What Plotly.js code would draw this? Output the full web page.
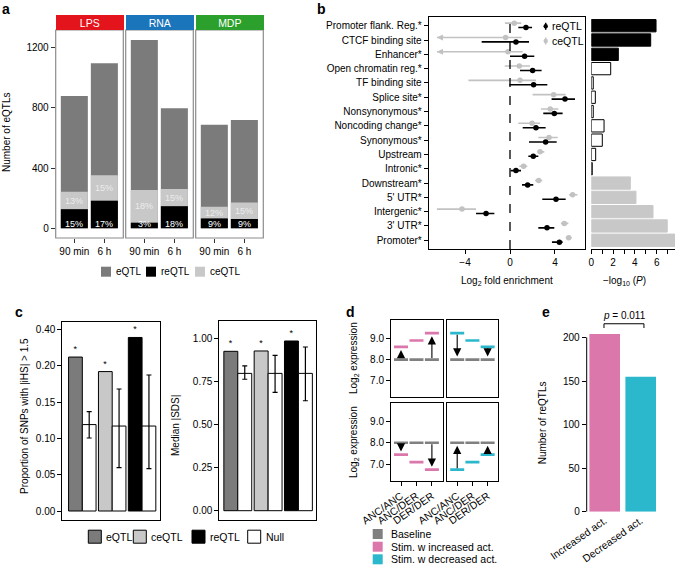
<!DOCTYPE html>
<html><head><meta charset="utf-8">
<script src="https://cdn.plot.ly/plotly-3.0.1.min.js"></script>
<style>html,body{margin:0;padding:0;background:#fff}#chart{width:675px;height:568px}</style>
</head><body><div id="chart"></div>
<script>
// ================= DATA =================
// Panel a  (order: LPS 90 min, LPS 6 h, RNA 90 min, RNA 6 h, MDP 90 min, MDP 6 h)
const aStimuli = ['LPS', 'RNA', 'MDP'];
const aTimepoints = ['90 min', '6 h'];
const aEQTL  = [877, 1094, 1249, 796, 687, 718];
const aCeQTL = [117, 169, 217, 115, 77, 110];
const aReQTL = [126, 183, 37, 146, 66, 62];
const aCePct = ['13%', '15%', '18%', '15%', '12%', '15%'];
const aRePct = ['15%', '17%', '3%', '18%', '9%', '9%'];
const aYTicks = [0, 400, 800, 1200];

// Panel b
const bCategories = ['Promoter flank. Reg.*', 'CTCF binding site', 'Enhancer*', 'Open chromatin reg.*',
  'TF binding site', 'Splice site*', 'Nonsynonymous*', 'Noncoding change*', 'Synonymous*', 'Upstream',
  'Intronic*', 'Downstream*', "5' UTR*", 'Intergenic*', "3' UTR*", 'Promoter*'];
const bReEst = [1.42, 0.53, 1.30, 2.01, 2.10, 4.89, 3.94, 2.31, 3.17, 2.07, 0.53, 1.57, 4.09, -2.13, 3.29, 4.39];
const bReLo  = [0.74, -2.52, 0.00, 0.89, -0.06, 3.70, 2.96, 1.13, 1.69, 1.63, 0.06, 1.07, 2.87, -3.02, 2.52, 3.73];
const bReHi  = [1.96, 1.69, 2.16, 2.81, 3.32, 5.78, 4.68, 3.17, 4.15, 2.52, 0.98, 2.07, 4.95, -1.39, 3.94, 4.68];
const bCeEst = [0.38, -0.39, -0.18, 0.83, 0.89, 3.88, 3.58, 1.96, 3.47, 2.67, 1.21, 2.55, 5.57, -4.27, 4.83, 5.22];
const bCeLo  = [-0.45, -6.5, -6.5, -0.47, -3.70, 2.01, 2.75, 0.74, 2.52, 2.43, 0.83, 2.22, 5.25, -6.5, 4.53, 4.95];
const bCeHi  = [1.00, 1.04, 1.13, 1.78, 2.31, 4.95, 4.30, 2.67, 4.24, 3.05, 1.54, 2.87, 6.00, -3.02, 5.19, 5.48];
const bCeTruncated = [false, true, true, false, false, false, false, false, false, false, false, false, false, false, false, false];
const bLogP = [5.94, 5.45, 2.48, 1.78, 0.18, 0.37, 0.18, 1.17, 1.01, 0.40, 0.09, 3.58, 4.10, 5.66, 6.97, 7.9];
const bLogPClass = ['reQTL', 'reQTL', 'reQTL', 'ns', 'ns', 'ns', 'ns', 'ns', 'ns', 'ns', 'ns', 'ceQTL', 'ceQTL', 'ceQTL', 'ceQTL', 'ceQTL'];

// Panel c
const cGroups = ['eQTL', 'ceQTL', 'reQTL'];
const cIHS = [0.212, 0.192, 0.239];
const cIHSNull = [0.119, 0.117, 0.117];
const cIHSNullLo = [0.1005, 0.0597, 0.0583];
const cIHSNullHi = [0.1368, 0.168, 0.1873];
const cIHSTickVals = [0, 0.05, 0.10, 0.15, 0.20, 0.25];
const cIHSTickText = ['0.00', '0.05', '0.10', '0.15', '0.20', '0.40'];
const cSDS = [0.925, 0.927, 0.985];
const cSDSNull = [0.797, 0.797, 0.797];
const cSDSNullLo = [0.763, 0.687, 0.638];
const cSDSNullHi = [0.840, 0.902, 0.950];
const cSig = ['*', '*', '*'];

// Panel d
const dGenotypes = ['ANC/ANC', 'ANC/DER', 'DER/DER'];
const dBaseline = [8.0, 8.0, 8.0];
const dIncreasedHigh = [8.6, 8.9, 9.25];
const dDecreasedHigh = [9.25, 8.9, 8.6];
const dIncreasedLow = [7.45, 7.1, 6.75];
const dDecreasedLow = [6.75, 7.1, 7.45];
const dArrowIdx = [0, 2];

// Panel e
const eCategories = ['Increased act.', 'Decreased act.'];
const eCounts = [204, 155];
const ePValue = '0.011';

// ================= STYLE / LAYOUT =================
const W = 675, H = 568;
const X = p => p / W;
const Y = p => 1 - p / H;
const F = 'Liberation Sans, Arial, Helvetica, sans-serif';
const PINK = '#dc77ac', CYAN = '#2bb8cd';
const GDARK = '#7b7b7b', GLIGHT = '#c8c8c8';

const base = {showgrid: false, zeroline: false, ticks: 'outside', ticklen: 4, tickwidth: 1,
  tickcolor: '#000', linecolor: '#000', linewidth: 1, fixedrange: true, automargin: false,
  tickfont: {family: F, size: 10, color: '#000'}};

const traces = [], shapes = [], annotations = [];
const layout = {width: W, height: H, margin: {l: 0, r: 0, t: 0, b: 0}, showlegend: false,
  paper_bgcolor: '#fff', plot_bgcolor: 'rgba(0,0,0,0)', barmode: 'group', bargap: 0.08, bargroupgap: 0,
  font: {family: F, size: 10, color: '#000'}, hovermode: false};

function txt(x, y, text, opt) {
  annotations.push(Object.assign({xref: 'paper', yref: 'paper', x: X(x), y: Y(y), text: text,
    showarrow: false, font: {family: F, size: 10, color: '#000'}, xanchor: 'center', yanchor: 'middle'}, opt || {}));
}
function box(x0, y0, x1, y1, fill, line) {
  shapes.push({type: 'rect', xref: 'paper', yref: 'paper', x0: X(x0), x1: X(x1), y0: Y(y1), y1: Y(y0),
    fillcolor: fill, line: {color: line || fill, width: line ? 1 : 0}});
}

// ----- panel labels -----
[['a', 6, 9], ['b', 321, 9], ['c', 19, 312], ['d', 350, 312], ['e', 546, 312]].forEach(l =>
  txt(l[1], l[2], '<b>' + l[0] + '</b>', {font: {family: F, size: 14, color: '#000'}}));

// ================= Panel a =================
const aStripCol = ['#e3141b', '#1b75bb', '#2ca02c'];
const aFacetX = [[55.7, 123.3], [125.7, 193.3], [195.7, 263.3]];
aStimuli.forEach((s, si) => {
  const xa = si === 0 ? 'x' : 'x' + (si + 1);
  const key = si === 0 ? 'xaxis' : 'xaxis' + (si + 1);
  const sl = arr => arr.slice(2 * si, 2 * si + 2);
  const common = {type: 'bar', x: aTimepoints, xaxis: xa, yaxis: 'y', offset: -0.45, width: 0.9, hoverinfo: 'skip'};
  traces.push(Object.assign({}, common, {y: sl(aEQTL), marker: {color: GDARK}}));
  traces.push(Object.assign({}, common, {y: sl(aCeQTL), base: sl(aReQTL), marker: {color: GLIGHT}}));
  traces.push(Object.assign({}, common, {y: sl(aReQTL), marker: {color: '#000'}}));
  layout[key] = Object.assign({}, base, {domain: [X(aFacetX[si][0]), X(aFacetX[si][1])], anchor: 'y',
    type: 'category', range: [-0.62, 1.63], showline: false, tickcolor: '#333'});
  shapes.push({type: 'rect', xref: xa + ' domain', yref: 'y domain', x0: 0, x1: 1, y0: 0, y1: 1,
    line: {color: '#8c8c8c', width: 1.2}});
  const fw = aFacetX[si][1] - aFacetX[si][0];
  annotations.push({xref: 'paper', yref: 'paper', x: X((aFacetX[si][0] + aFacetX[si][1]) / 2), y: Y(22.5),
    xanchor: 'center', yanchor: 'middle', text: s, showarrow: false, bgcolor: aStripCol[si],
    width: fw, height: 15, borderpad: 0, borderwidth: 0, valign: 'middle',
    font: {family: F, size: 10.5, color: '#fff'}});
  aTimepoints.forEach((t, ti) => {
    const i = 2 * si + ti;
    annotations.push({xref: xa, yref: 'y', x: t, y: aReQTL[i] + aCeQTL[i] / 2, text: aCePct[i], showarrow: false,
      yshift: 0, font: {family: F, size: 9, color: '#ececec'}});
    annotations.push({xref: xa, yref: 'y', x: t, y: 0, yanchor: 'bottom', text: aRePct[i], showarrow: false,
      yshift: -3, font: {family: F, size: 9, color: '#fff'}});
  });
});
layout.yaxis = Object.assign({}, base, {domain: [Y(238), Y(30)], anchor: 'x', range: [-64, 1315],
  tickvals: aYTicks, showline: false, tickcolor: '#333'});
txt(7, 133, 'Number of eQTLs', {textangle: -90});
// legend a
[[101, 'eQTL', GDARK], [146, 'reQTL', '#000'], [195, 'ceQTL', GLIGHT]].forEach(l => {
  box(l[0], 266.7, l[0] + 10, 276.7, l[2]);
  txt(l[0] + 13, 271.7, l[1], {xanchor: 'left'});
});

// ================= Panel b =================
const bRows = bCategories.map((_, i) => i + 1);
const bGray = '#c2c2c2';
traces.push({type: 'scatter', mode: 'markers', x: bCeEst, y: bRows.map(r => r - 0.18), xaxis: 'x4', yaxis: 'y4',
  marker: {color: bGray, size: 5.5}, cliponaxis: true,
  error_x: {type: 'data', symmetric: false, array: bCeHi.map((h, i) => h - bCeEst[i]),
    arrayminus: bCeEst.map((e, i) => e - bCeLo[i]), color: bGray, thickness: 1.6, width: 0}});
traces.push({type: 'scatter', mode: 'markers', x: bReEst, y: bRows.map(r => r + 0.13), xaxis: 'x4', yaxis: 'y4',
  marker: {color: '#000', size: 5.5},
  error_x: {type: 'data', symmetric: false, array: bReHi.map((h, i) => h - bReEst[i]),
    arrayminus: bReEst.map((e, i) => e - bReLo[i]), color: '#000', thickness: 1.6, width: 0}});
bCeTruncated.forEach((t, i) => {
  if (!t) return;
  annotations.push({xref: 'x4', yref: 'y4', axref: 'x4', ayref: 'y4', x: bCeLo[i], y: bRows[i] - 0.18,
    ax: bCeLo[i] + 0.8, ay: bRows[i] - 0.18, showarrow: true, arrowhead: 2, arrowsize: 1, arrowwidth: 1.2,
    arrowcolor: bGray, text: ''});
});
shapes.push({type: 'line', xref: 'x4', yref: 'y4 domain', x0: 0, x1: 0, y0: 0, y1: 1,
  line: {color: '#000', width: 1.3, dash: 'dash'}});
const bFill = {reQTL: '#000', ns: '#fff', ceQTL: GLIGHT};
const bLine = {reQTL: '#000', ns: '#000', ceQTL: GLIGHT};
traces.push({type: 'bar', orientation: 'h', x: bLogP, y: bRows, xaxis: 'x5', yaxis: 'y5', offset: -0.43, width: 0.86,
  marker: {color: bLogPClass.map(c => bFill[c]), line: {color: bLogPClass.map(c => bLine[c]), width: 1}}});
layout.xaxis4 = Object.assign({}, base, {domain: [X(428.7), X(585)], anchor: 'y4', range: [-7.23, 6.67],
  tickvals: [-4, 0, 4], ticktext: ['\u22124', '0', '4'], showline: true, mirror: true});
layout.yaxis4 = Object.assign({}, base, {domain: [Y(249), Y(16.7)], anchor: 'x4', range: [16.61, 0.37],
  tickvals: bRows, ticktext: bCategories, showline: true, mirror: true});
layout.xaxis5 = Object.assign({}, base, {domain: [X(591.3), 1], anchor: 'y5', range: [0, 7.68],
  tickvals: [0, 2, 4, 6], showline: true,
  minor: {tickvals: [1, 3, 5, 7], ticks: 'outside', ticklen: 4, tickcolor: '#000', tickwidth: 1}});
layout.yaxis5 = Object.assign({}, base, {domain: [Y(249), Y(16.7)], anchor: 'x5', range: [16.61, 0.37], visible: false});
txt(507, 281, 'Log<sub>2</sub> fold enrichment');
txt(624, 281, '\u2212log<sub>10</sub> (<i>P</i>)');
// legend b
[[26.3, 'reQTL', '#000'], [41, 'ceQTL', bGray]].forEach(l => {
  shapes.push({type: 'line', xref: 'paper', yref: 'paper', x0: X(545.7), x1: X(545.7), y0: Y(l[0] - 3.5), y1: Y(l[0] + 3.5),
    line: {color: l[2], width: 1.5}});
  shapes.push({type: 'circle', xref: 'paper', yref: 'paper', x0: X(543.5), x1: X(547.9), y0: Y(l[0] + 2.2), y1: Y(l[0] - 2.2),
    fillcolor: l[2], line: {color: l[2], width: 0}});
  txt(549.5, l[0], l[1], {xanchor: 'left', font: {family: F, size: 10.5, color: '#000'}});
});

// ================= Panel c =================
const cColors = [GDARK, GLIGHT, '#000'];
function cPanel(xa, ya, obs, nul, lo, hi) {
  traces.push({type: 'bar', x: cGroups, y: obs, xaxis: xa, yaxis: ya, text: cSig, textposition: 'outside',
    textfont: {family: F, size: 9, color: '#000'}, cliponaxis: false,
    marker: {color: cColors, line: {color: '#000', width: 1}}});
  traces.push({type: 'bar', x: cGroups, y: nul, xaxis: xa, yaxis: ya,
    marker: {color: '#fff', line: {color: '#000', width: 1}},
    error_y: {type: 'data', symmetric: false, array: hi.map((h, i) => h - nul[i]), arrayminus: nul.map((n, i) => n - lo[i]),
      color: '#000', thickness: 1.2, width: 2.5}});
}
cPanel('x6', 'y6', cIHS, cIHSNull, cIHSNullLo, cIHSNullHi);
cPanel('x7', 'y7', cSDS, cSDSNull, cSDSNullLo, cSDSNullHi);
layout.xaxis6 = Object.assign({}, base, {domain: [X(62.3), X(160)], anchor: 'y6', type: 'category', range: [-0.67, 2.6],
  ticks: '', showticklabels: false, showline: true, mirror: true});
layout.yaxis6 = Object.assign({}, base, {domain: [Y(520), Y(321.7)], anchor: 'x6', range: [-0.0124, 0.2607],
  tickvals: cIHSTickVals, ticktext: cIHSTickText, showline: true, mirror: true});
layout.xaxis7 = Object.assign({}, base, {domain: [X(219.3), X(315.7)], anchor: 'y7', type: 'category', range: [-0.61, 2.57],
  ticks: '', showticklabels: false, showline: true, mirror: true});
layout.yaxis7 = Object.assign({}, base, {domain: [Y(520), Y(321)], anchor: 'x7', range: [-0.054, 1.101],
  tickvals: [0, 0.25, 0.5, 0.75, 1], ticktext: ['0.00', '0.25', '0.50', '0.75', '1.00'], showline: true, mirror: true});
txt(24, 416, 'Proportion of SNPs with |iHS| > 1.5', {textangle: -90});
txt(175, 426, 'Median |SDS|', {textangle: -90});
[[88.3, 'eQTL', GDARK], [133.3, 'ceQTL', GLIGHT], [192, 'reQTL', '#000'], [247.7, 'Null', '#fff']].forEach(l => {
  box(l[0], 530.2, l[0] + 13, 543.2, l[2], '#000');
  txt(l[0] + 16, 536.7, l[1], {xanchor: 'left', font: {family: F, size: 10.5, color: '#000'}});
});

// ================= Panel d =================
const dPanels = [
  {xa: 'x8', ya: 'y8', vals: dIncreasedHigh, color: PINK, toStim: true, col: 0, row: 0},
  {xa: 'x9', ya: 'y9', vals: dDecreasedHigh, color: CYAN, toStim: false, col: 1, row: 0},
  {xa: 'x10', ya: 'y10', vals: dIncreasedLow, color: PINK, toStim: true, col: 0, row: 1},
  {xa: 'x11', ya: 'y11', vals: dDecreasedLow, color: CYAN, toStim: false, col: 1, row: 1}
];
const dColX = [[391, 442.7], [447.3, 498.3]];
const dRowY = [[320, 397.3], [402.7, 481]];
dPanels.forEach(p => {
  const n = p.xa.slice(1);
  traces.push({type: 'scatter', mode: 'markers', x: dGenotypes, y: dBaseline, xaxis: p.xa, yaxis: p.ya,
    marker: {symbol: 'line-ew', size: 10, line: {color: '#808080', width: 2.6}}});
  traces.push({type: 'scatter', mode: 'markers', x: dGenotypes, y: p.vals, xaxis: p.xa, yaxis: p.ya,
    marker: {symbol: 'line-ew', size: 10, line: {color: p.color, width: 2.6}}});
  dArrowIdx.forEach(i => {
    const tail = p.toStim ? dBaseline[i] : p.vals[i];
    const head = p.toStim ? p.vals[i] : dBaseline[i];
    annotations.push({xref: p.xa, yref: p.ya, axref: p.xa, ayref: p.ya, x: i, y: head, ax: i, ay: tail,
      showarrow: true, arrowhead: 2, arrowsize: 1.5, arrowwidth: 1.1, arrowcolor: '#000', standoff: 3, text: ''});
  });
  layout['xaxis' + n] = Object.assign({}, base, {domain: [X(dColX[p.col][0]), X(dColX[p.col][1])], anchor: p.ya,
    type: 'category', range: [-0.65, 2.7], showline: true, mirror: true,
    ticks: p.row === 1 ? 'outside' : '', showticklabels: p.row === 1, tickangle: -35,
    tickfont: {family: F, size: 10.5, color: '#000'}});
  layout['yaxis' + n] = Object.assign({}, base, {domain: [Y(dRowY[p.row][1]), Y(dRowY[p.row][0])], anchor: p.xa,
    range: [6.22, 9.87], tickvals: [7, 8, 9], ticktext: ['7.0', '8.0', '9.0'], showline: true, mirror: true,
    ticks: p.col === 0 ? 'outside' : '', showticklabels: p.col === 0});
});
txt(354, 358, 'Log<sub>2</sub> expression', {textangle: -90});
txt(354, 442, 'Log<sub>2</sub> expression', {textangle: -90});
[[534, 'Baseline', '#808080'], [546.7, 'Stim. w increased act.', PINK], [559.3, 'Stim. w decreased act.', CYAN]].forEach(l => {
  box(372.7, l[0] - 5, 382.7, l[0] + 5, l[2]);
  txt(389.3, l[0], l[1], {xanchor: 'left', font: {family: F, size: 10.5, color: '#000'}});
});

// ================= Panel e =================
traces.push({type: 'bar', x: eCategories, y: eCounts, xaxis: 'x12', yaxis: 'y12', offset: -0.425, width: 0.85,
  marker: {color: [PINK, CYAN]}});
layout.xaxis12 = Object.assign({}, base, {domain: [X(586.7), X(658.7)], anchor: 'y12', type: 'category', range: [-0.5, 1.5],
  ticks: '', showline: false, tickangle: -35, tickfont: {family: F, size: 10.5, color: '#000'}});
layout.yaxis12 = Object.assign({}, base, {domain: [Y(511.7), Y(320)], anchor: 'x12', range: [0, 220],
  tickvals: [0, 50, 100, 150, 200], showline: false});
shapes.push({type: 'line', xref: 'x12 domain', yref: 'y12', x0: 0, x1: 0, y0: 0, y1: 200, line: {color: '#000', width: 1}});
shapes.push({type: 'path', xref: 'x12', yref: 'y12', path: 'M -0.02 210.8 L -0.02 215.7 L 1.09 215.7 L 1.09 210.8',
  line: {color: '#000', width: 1}});
txt(624, 315, '<i>p</i> = ' + ePValue);
txt(542.3, 423, 'Number of reQTLs', {textangle: -90});

layout.shapes = shapes;
layout.annotations = annotations;
Plotly.newPlot('chart', traces, layout, {staticPlot: true, displayModeBar: false});
</script></body></html>
